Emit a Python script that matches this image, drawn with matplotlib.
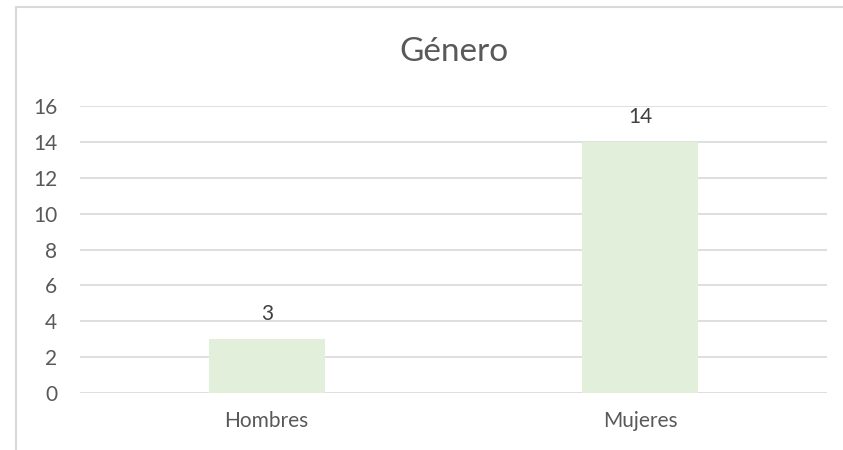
import matplotlib.pyplot as plt
import matplotlib.patches as patches

# datos
categorias = ['Hombres', 'Mujeres']
valores = [3, 14]
titulo = 'Género'
y_ticks = [0, 2, 4, 6, 8, 10, 12, 14, 16]

plt.rcParams['font.family'] = ['Lato', 'DejaVu Sans']

W, H = 843, 450
fig = plt.figure(figsize=(W / 100, H / 100), dpi=100)
ax = fig.add_axes([80 / W, 1 - 393 / H, (827 - 80) / W, (393 - 106) / H])

# marco del gráfico
fig.patches.append(patches.Rectangle((16 / W, -0.1), 1.2, 1 - 7 / H + 0.1,
                                     transform=fig.transFigure, fill=False,
                                     edgecolor='#D9D9D9', linewidth=1.5))

x = range(len(categorias))
ax.bar(x, valores, width=0.31, color='#E2EFDA', zorder=2)
for xi, v in zip(x, valores):
    ax.annotate(str(v), (xi, v), xytext=(0, 18), textcoords='offset points',
                ha='center', va='center', fontsize=15, color='#404040')

ax.set_xlim(-0.5, len(categorias) - 0.5)
ax.set_ylim(0, 16)
ax.set_yticks(y_ticks)
ax.yaxis.grid(True, color='#D9D9D9', linewidth=1.2, zorder=0)
ax.set_axisbelow(True)
for s in ax.spines.values():
    s.set_visible(False)
ax.set_xticks(list(x))
ax.set_xticklabels(categorias)
ax.tick_params(axis='both', length=0, labelsize=15, labelcolor='#595959')
ax.tick_params(axis='y', pad=16.5)
ax.tick_params(axis='x', pad=13)

fig.text((80 + 827) / 2 / W, 1 - 52 / H, titulo, ha='center', va='center',
         fontsize=24, color='#595959')

fig.savefig('out.png', dpi=100)
